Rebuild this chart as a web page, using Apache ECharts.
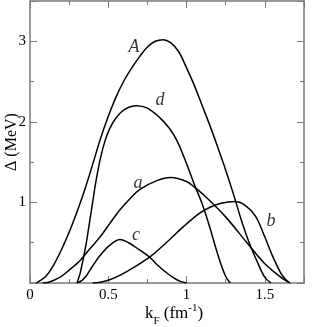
<!DOCTYPE html>
<html>
<head>
<meta charset="utf-8">
<script src="https://cdn.jsdelivr.net/npm/echarts@6/dist/echarts.min.js"></script>
<style>
html,body{margin:0;padding:0;background:#fff;}
#chart{width:313px;height:327px;}
</style>
</head>
<body>
<div id="chart"></div>
<script>
// Curve data [kF, Delta]
var curveA = [[0.04,0],[0.1,0.08],[0.15,0.22],[0.2,0.41],[0.25,0.63],[0.3,0.88],[0.35,1.16],[0.4,1.47],[0.45,1.79],[0.5,2.07],[0.55,2.31],[0.6,2.51],[0.65,2.67],[0.7,2.81],[0.75,2.93],[0.8,3.0],[0.85,3.02],[0.9,2.98],[0.95,2.87],[1.0,2.67],[1.05,2.45],[1.1,2.2],[1.15,1.95],[1.2,1.68],[1.25,1.4],[1.3,1.1],[1.35,0.78],[1.4,0.5],[1.45,0.27],[1.5,0.07],[1.54,0]];
var curveD = [[0.3,0],[0.32,0.12],[0.34,0.3],[0.36,0.5],[0.38,0.75],[0.4,1.0],[0.42,1.25],[0.45,1.55],[0.48,1.77],[0.51,1.92],[0.55,2.05],[0.6,2.15],[0.68,2.2],[0.75,2.17],[0.83,2.05],[0.89,1.92],[0.94,1.76],[1.0,1.48],[1.05,1.22],[1.1,0.98],[1.15,0.68],[1.2,0.35],[1.25,0.08],[1.28,0]];
var curveLowA = [[0.08,0],[0.12,0.01],[0.19,0.07],[0.25,0.16],[0.32,0.28],[0.38,0.42],[0.447,0.57],[0.51,0.74],[0.575,0.91],[0.64,1.05],[0.7,1.16],[0.81,1.27],[0.9,1.31],[1.0,1.26],[1.05,1.19],[1.117,1.08],[1.245,0.83],[1.39,0.49],[1.5,0.24],[1.61,0.06],[1.66,0]];
var curveB = [[0.4,0],[0.45,0.01],[0.51,0.04],[0.58,0.1],[0.66,0.19],[0.77,0.33],[0.87,0.5],[0.98,0.7],[1.086,0.87],[1.15,0.94],[1.22,0.99],[1.31,1.01],[1.37,0.97],[1.44,0.83],[1.5,0.57],[1.55,0.33],[1.6,0.13],[1.63,0.05],[1.66,0]];
var curveC = [[0.3,0],[0.33,0.03],[0.36,0.09],[0.383,0.16],[0.41,0.24],[0.447,0.34],[0.51,0.47],[0.575,0.54],[0.63,0.5],[0.7,0.41],[0.77,0.31],[0.81,0.23],[0.87,0.13],[0.92,0.06],[0.96,0.02],[1.0,0]];
var curveNames = ['A','d','a','b','c'];
// label anchor positions (data coords)
var labelPos = [[0.664,2.93],[0.83,2.27],[0.69,1.24],[1.54,0.77],[0.677,0.59]];
var xTickLabels = ['0','0.5','1','1.5'];
var yTickLabels = ['1','2','3'];

var chart = echarts.init(document.getElementById('chart'));
var serif = '"Liberation Serif","DejaVu Serif",serif';
var axisCol = '#7a7a7a';
function axisBase(){
  return {
    axisLine:{show:true,onZero:false,lineStyle:{color:axisCol,width:1.5}},
    axisTick:{show:true,inside:true,length:7,lineStyle:{color:axisCol,width:1}},
    minorTick:{show:true,splitNumber:2,length:4,lineStyle:{color:axisCol,width:1}},
    splitLine:{show:false}
  };
}
var xb = axisBase(), xt = axisBase(), yl = axisBase(), yr = axisBase();
Object.assign(xb,{type:'value',position:'bottom',min:0,max:1.75,interval:0.5,
  axisLabel:{show:true,color:'#000',fontFamily:serif,fontSize:15,margin:5,showMaxLabel:false,
    formatter:function(v){var s=String(+v.toFixed(2));return xTickLabels.indexOf(s)>=0?s:'';}},
  name:'{k|k}{s|F}{k| (fm}{p|-1}{k|)}',nameLocation:'middle',nameGap:17,nameMoveOverlap:false,
  nameTextStyle:{fontFamily:serif,color:'#000',padding:[0,0,0,14],rich:{
    k:{fontFamily:serif,fontSize:17,color:'#000',lineHeight:22,verticalAlign:'bottom'},
    s:{fontFamily:serif,fontSize:11,color:'#000',lineHeight:22,verticalAlign:'bottom',padding:[0,0,-5,0]},
    p:{fontFamily:serif,fontSize:11,color:'#000',lineHeight:22,verticalAlign:'bottom',padding:[0,0,8,0]}
  }}});
Object.assign(xt,{type:'value',position:'top',min:0,max:1.75,interval:0.5,axisLabel:{show:false}});
Object.assign(yl,{type:'value',position:'left',min:0,max:3.5,interval:1,
  axisLabel:{show:true,color:'#000',fontFamily:serif,fontSize:15,margin:4,showMaxLabel:false,
    formatter:function(v){var s=String(v);return yTickLabels.indexOf(s)>=0?s:'';}},
  name:'\u0394 (MeV)',nameLocation:'middle',nameGap:10,nameRotate:90,nameMoveOverlap:false,
  nameTextStyle:{fontFamily:serif,fontSize:16,color:'#000'}});
Object.assign(yr,{type:'value',position:'right',min:0,max:3.5,interval:1,axisLabel:{show:false}});

var curves = [curveA,curveD,curveLowA,curveB,curveC];
var series = curves.map(function(c,i){
  return {type:'line',data:c,xAxisIndex:0,yAxisIndex:0,showSymbol:false,symbol:'none',
    smooth:0.35,lineStyle:{color:'#000',width:1.5},silent:true};
});
series.push({type:'scatter',xAxisIndex:0,yAxisIndex:0,symbolSize:0,silent:true,
  data:labelPos.map(function(p,i){return {value:p,name:curveNames[i]};}),
  label:{show:true,position:'inside',formatter:function(p){return p.name;},
    fontFamily:serif,fontStyle:'italic',fontSize:18,color:'#000'}});

chart.setOption({
  animation:false,
  backgroundColor:'#fff',
  grid:{left:30,right:9,top:1,bottom:44,containLabel:false,outerBoundsMode:'none'},
  xAxis:[xb,xt],
  yAxis:[yl,yr],
  series:series
});
</script>
</body>
</html>
